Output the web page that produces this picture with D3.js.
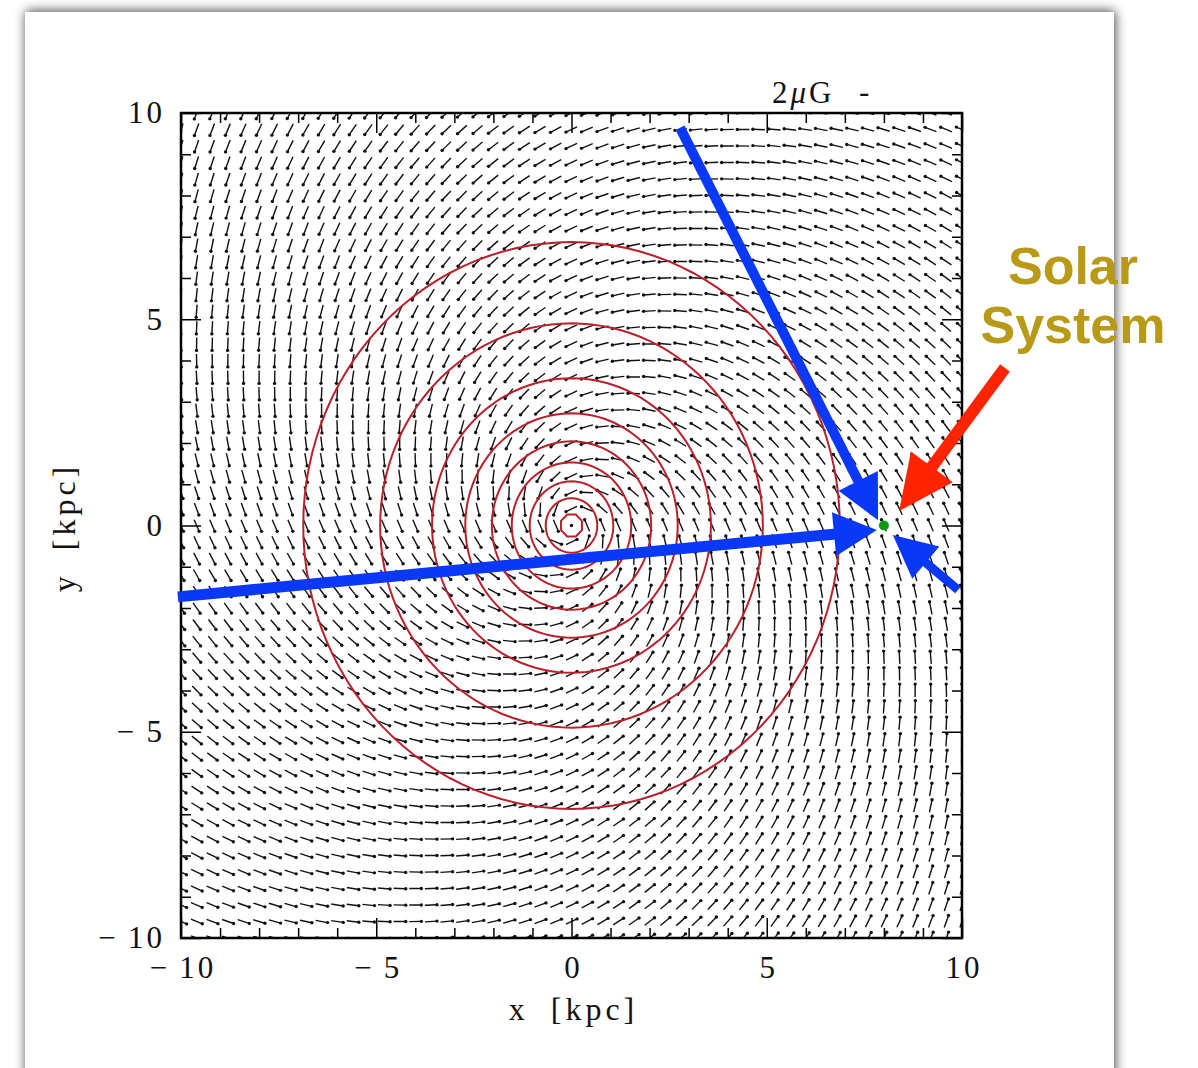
<!DOCTYPE html>
<html>
<head>
<meta charset="utf-8">
<script src="https://cdn.jsdelivr.net/npm/d3@7"></script>
<style>
  html, body { margin: 0; padding: 0; background: #ffffff; }
  svg { display: block; }
</style>
</head>
<body>
<svg id="chart" width="1198" height="1068"></svg>
<script>
// ---- data ----
const xDomain = [-10, 10];               // kpc
const yDomain = [-10, 10];               // kpc
const majorTicks = [-10, -5, 0, 5, 10];
const minorTicks = [-9, -8, -7, -6, -4, -3, -2, -1, 1, 2, 3, 4, 6, 7, 8, 9];
const gridStep = 0.4;                    // spacing of field samples, kpc
const pitchDeg = 24;                     // spiral pitch angle of the field
const arrowLen = 0.31;                   // drawn vector length, kpc
const contourRadii = [0.29, 0.66, 1.07, 1.53, 2.04, 2.72, 3.57, 4.9, 6.87];
const sun = { x: 8, y: 0 };
const sightLines = [
  { x0: 2.78,   y0: 9.64,  x1: 7.85, y1: 0.13,  w: 10, head: 44, half: 22 },
  { x0: -10.08, y0: -1.73, x1: 7.82, y1: -0.11, w: 11, head: 43, half: 22 },
  { x0: 9.9,    y0: -1.56, x1: 8.23, y1: -0.23, w: 9,  head: 43, half: 21 }
];
const pointer = { x0: 11.1, y0: 3.82, x1: 8.39, y1: 0.35, w: 12, head: 55, half: 26 };
const labelLines = ["Solar", "System"];

// ---- layout ----
const svg = d3.select("#chart");
const plot = { left: 181, right: 962, top: 113, bottom: 938 };
const x = d3.scaleLinear().domain(xDomain).range([plot.left, plot.right]);
const y = d3.scaleLinear().domain(yDomain).range([plot.bottom, plot.top]);

const defs = svg.append("defs");
const shadow = defs.append("filter").attr("id", "cardShadow")
  .attr("x", "-10%").attr("y", "-10%").attr("width", "120%").attr("height", "120%");
shadow.append("feDropShadow").attr("dx", 1).attr("dy", -1)
  .attr("stdDeviation", 6).attr("flood-color", "#000").attr("flood-opacity", 0.75);
defs.append("clipPath").attr("id", "plotClip").append("rect")
  .attr("x", plot.left).attr("y", plot.top)
  .attr("width", plot.right - plot.left).attr("height", plot.bottom - plot.top);

// card
svg.append("rect").attr("x", 25).attr("y", 12).attr("width", 1089).attr("height", 1120)
  .attr("fill", "#fff").attr("filter", "url(#cardShadow)");

const serif = "'Liberation Serif', 'Times New Roman', serif";

// ---- vector field ----
const pitch = pitchDeg * Math.PI / 180;
const gx = d3.range(xDomain[0], xDomain[1] + 1e-6, gridStep);
const gy = d3.range(yDomain[0], yDomain[1] + 1e-6, gridStep);
const samples = [];
gy.forEach(py => gx.forEach(px => {
  const r = Math.hypot(px, py);
  if (r < 1e-6) { samples.push({ px, py, ux: 0, uy: 0 }); return; }
  const er = [px / r, py / r], ep = [-py / r, px / r];
  const ux = Math.cos(pitch) * ep[0] - Math.sin(pitch) * er[0];
  const uy = Math.cos(pitch) * ep[1] - Math.sin(pitch) * er[1];
  samples.push({ px, py, ux, uy });
}));

const field = svg.append("g").attr("clip-path", "url(#plotClip)");
field.selectAll("line.vec").data(samples).join("line").attr("class", "vec")
  .attr("x1", d => x(d.px - d.ux * arrowLen / 2))
  .attr("y1", d => y(d.py - d.uy * arrowLen / 2))
  .attr("x2", d => x(d.px + d.ux * arrowLen / 2))
  .attr("y2", d => y(d.py + d.uy * arrowLen / 2))
  .attr("stroke", "#111").attr("stroke-width", 1.4);
field.selectAll("circle.tip").data(samples).join("circle").attr("class", "tip")
  .attr("cx", d => x(d.px + d.ux * arrowLen / 2))
  .attr("cy", d => y(d.py + d.uy * arrowLen / 2))
  .attr("r", 1.7).attr("fill", "#111");

// ---- contours ----
const ring = r => {
  const n = r < 0.4 ? 8 : 120;
  return d3.range(n + 1).map(i => {
    const a = (i / n) * 2 * Math.PI + (n === 8 ? Math.PI / 8 : 0);
    return [r * Math.cos(a), r * Math.sin(a)];
  });
};
const ringLine = d3.line().x(d => x(d[0])).y(d => y(d[1]));
svg.append("g").selectAll("path").data(contourRadii).join("path")
  .attr("d", r => ringLine(ring(r)))
  .attr("fill", "none").attr("stroke", "#b8202c").attr("stroke-width", 2);

// ---- axes ----
const fmt = d => d < 0 ? "\u2212\u2009" + Math.abs(d) : String(d);
function styleAxis(g) {
  g.select(".domain").remove();
  g.selectAll(".tick line").attr("stroke", "#000").attr("stroke-width", 1.5);
  g.selectAll(".tick text").attr("fill", "#111")
    .style("font-family", serif).style("font-size", "31px").style("letter-spacing", "3px");
}
svg.append("g").attr("transform", `translate(0,${plot.bottom})`)
  .call(d3.axisBottom(x).tickValues(majorTicks).tickSize(-20).tickPadding(18).tickFormat(fmt))
  .call(styleAxis)
  .call(g => g.selectAll(".tick text").attr("dx", "1.5"));
svg.append("g").attr("transform", `translate(0,${plot.bottom})`)
  .call(d3.axisBottom(x).tickValues(minorTicks).tickSize(-10).tickFormat(""))
  .call(styleAxis);
svg.append("g").attr("transform", `translate(0,${plot.top})`)
  .call(d3.axisTop(x).tickValues(majorTicks).tickSize(-20).tickFormat(""))
  .call(styleAxis);
svg.append("g").attr("transform", `translate(0,${plot.top})`)
  .call(d3.axisTop(x).tickValues(minorTicks).tickSize(-10).tickFormat(""))
  .call(styleAxis);
svg.append("g").attr("transform", `translate(${plot.left},0)`)
  .call(d3.axisLeft(y).tickValues(majorTicks).tickSize(-20).tickPadding(16).tickFormat(fmt))
  .call(styleAxis);
svg.append("g").attr("transform", `translate(${plot.left},0)`)
  .call(d3.axisLeft(y).tickValues(minorTicks).tickSize(-10).tickFormat(""))
  .call(styleAxis);
svg.append("g").attr("transform", `translate(${plot.right},0)`)
  .call(d3.axisRight(y).tickValues(majorTicks).tickSize(-20).tickFormat(""))
  .call(styleAxis);
svg.append("g").attr("transform", `translate(${plot.right},0)`)
  .call(d3.axisRight(y).tickValues(minorTicks).tickSize(-10).tickFormat(""))
  .call(styleAxis);

svg.append("rect").attr("x", plot.left).attr("y", plot.top)
  .attr("width", plot.right - plot.left).attr("height", plot.bottom - plot.top)
  .attr("fill", "none").attr("stroke", "#000").attr("stroke-width", 2.5);

// axis titles
const titleStyle = t => t.style("font-family", serif).style("font-size", "32px")
  .style("letter-spacing", "4px").style("word-spacing", "10px").attr("fill", "#111");
svg.append("text").attr("x", (plot.left + plot.right) / 2 + 2).attr("y", 1020)
  .attr("text-anchor", "middle").call(titleStyle).text("x [kpc]");
svg.append("text").attr("transform", `translate(75,${(plot.top + plot.bottom) / 2 + 2}) rotate(-90)`)
  .attr("text-anchor", "middle").call(titleStyle).text("y [kpc]");

// field scale key
const key = svg.append("text").attr("x", 772).attr("y", 103)
  .style("font-family", serif).style("font-size", "31px").style("letter-spacing", "3px")
  .attr("fill", "#111");
key.append("tspan").text("2");
key.append("tspan").style("font-style", "italic").text("\u03bc");
key.append("tspan").text("G");
svg.append("text").attr("x", 859).attr("y", 102)
  .style("font-family", serif).style("font-size", "31px").attr("fill", "#111").text("-");

// ---- annotation arrows ----
function drawArrow(a, color) {
  const X0 = x(a.x0), Y0 = y(a.y0), X1 = x(a.x1), Y1 = y(a.y1);
  const L = Math.hypot(X1 - X0, Y1 - Y0);
  const ux = (X1 - X0) / L, uy = (Y1 - Y0) / L;
  const bx = X1 - ux * a.head, by = Y1 - uy * a.head;
  svg.append("line").attr("x1", X0).attr("y1", Y0)
    .attr("x2", bx + ux * 2).attr("y2", by + uy * 2)
    .attr("stroke", color).attr("stroke-width", a.w);
  svg.append("polygon")
    .attr("points", [[X1, Y1], [bx - uy * a.half, by + ux * a.half], [bx + uy * a.half, by - ux * a.half]]
      .map(p => p.join(",")).join(" "))
    .attr("fill", color);
}
sightLines.forEach(a => drawArrow(a, "#0a38f8"));
drawArrow(pointer, "#ff2400");

// sun
svg.append("circle").attr("cx", x(sun.x)).attr("cy", y(sun.y)).attr("r", 5)
  .attr("fill", "#0c9a12");

// label
const lab = svg.append("text").attr("text-anchor", "middle")
  .style("font-family", "'Liberation Sans', Arial, sans-serif").style("font-weight", "bold")
  .style("font-size", "52px").attr("fill", "#b89a18");
labelLines.forEach((t, i) => lab.append("tspan").attr("x", 1073).attr("y", 284 + i * 59).text(t));
</script>
</body>
</html>
